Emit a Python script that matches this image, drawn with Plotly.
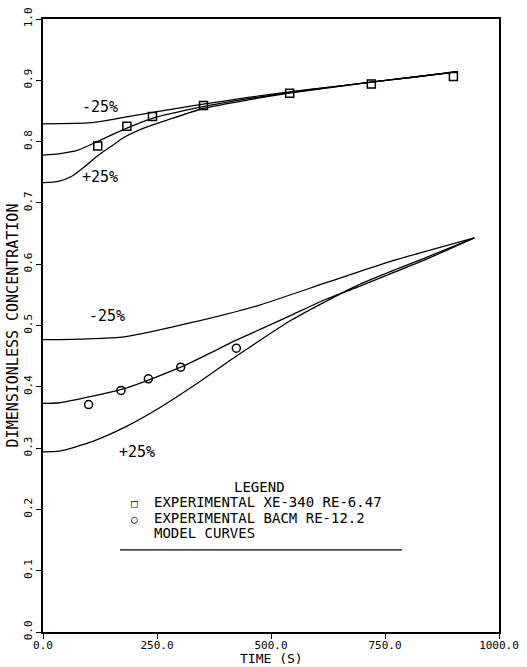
import plotly.graph_objects as go

# ---------------- data ----------------
# Experimental points
sq_time = [120, 184, 240, 352, 541, 720, 900]
sq_conc = [0.793, 0.825, 0.841, 0.859, 0.879, 0.894, 0.906]

ci_time = [100, 171, 231, 302, 424]
ci_conc = [0.371, 0.394, 0.413, 0.432, 0.463]

# Model curves, upper family (XE-340)
um_time = [0, 106, 180, 250, 351, 450, 540, 630, 720, 810, 910]
um_conc = [0.829, 0.831, 0.840, 0.849, 0.861, 0.872, 0.881, 0.889, 0.897, 0.905, 0.914]

u0_time = [0, 34, 77, 119, 184, 240, 351, 450, 540, 630, 720, 810, 910]
u0_conc = [0.778, 0.780, 0.786, 0.800, 0.822, 0.838, 0.857, 0.870, 0.880, 0.889, 0.897, 0.905, 0.914]

up_time = [0, 34, 62, 91, 120, 149, 178, 221, 272, 351, 450, 540, 630, 720, 810, 910]
up_conc = [0.733, 0.735, 0.743, 0.759, 0.777, 0.792, 0.807, 0.822, 0.835, 0.854, 0.868, 0.879, 0.888, 0.897, 0.905, 0.914]

# Model curves, lower family (BACM)
lm_time = [0, 36, 182, 327, 473, 618, 764, 946]
lm_conc = [0.477, 0.477, 0.482, 0.505, 0.533, 0.569, 0.605, 0.643]

l0_time = [0, 36, 182, 302, 424, 545, 618, 691, 764, 837, 946]
l0_conc = [0.373, 0.374, 0.398, 0.432, 0.476, 0.517, 0.542, 0.563, 0.585, 0.607, 0.643]

lp_time = [0, 36, 109, 182, 254, 327, 422, 545, 691, 837, 946]
lp_conc = [0.294, 0.295, 0.311, 0.335, 0.365, 0.400, 0.449, 0.509, 0.566, 0.610, 0.643]

x_ticks = [0, 250, 500, 750, 1000]
y_ticks = [0.0, 0.1, 0.2, 0.3, 0.4, 0.5, 0.6, 0.7, 0.8, 0.9, 1.0]

curve_labels = ["-25%", "+25%", "-25%", "+25%"]
label_time = [124, 124, 141, 207]
label_conc = [0.856, 0.743, 0.515, 0.294]

x_title = "TIME (S)"
y_title = "DIMENSIONLESS CONCENTRATION"

legend_title = "LEGEND"
legend_rows = ["EXPERIMENTAL XE-340 RE-6.47", "EXPERIMENTAL BACM RE-12.2", "MODEL CURVES"]
legend_syms = ["\u25a1", "\u25cb", ""]

# ---------------- figure ----------------
FONT = "DejaVu Sans Mono"
fig = go.Figure()

line_style = dict(color="black", width=1.3, shape="spline", smoothing=0.6)
for t, c in [(um_time, um_conc), (u0_time, u0_conc), (up_time, up_conc),
             (lm_time, lm_conc), (l0_time, l0_conc), (lp_time, lp_conc)]:
    fig.add_trace(go.Scatter(x=t, y=c, mode="lines", line=line_style,
                             showlegend=False, hoverinfo="skip"))

fig.add_trace(go.Scatter(x=sq_time, y=sq_conc, mode="markers", showlegend=False,
                         marker=dict(symbol="square-open", size=8, color="black",
                                     line=dict(width=1.5))))
fig.add_trace(go.Scatter(x=ci_time, y=ci_conc, mode="markers", showlegend=False,
                         marker=dict(symbol="circle-open", size=8, color="black",
                                     line=dict(width=1.5))))

for txt, t, c in zip(curve_labels, label_time, label_conc):
    fig.add_annotation(x=t, y=c, text=txt, showarrow=False,
                       font=dict(family=FONT, size=15, color="black"))

# manual legend (paper coordinates of the plot area)
fig.add_annotation(xref="paper", yref="paper", x=0.475, y=0.222, text=legend_title,
                   showarrow=False, borderpad=0,
                   font=dict(family=FONT, size=14, color="black"))
row_y = [0.197, 0.172, 0.147]
for txt, sym, yy in zip(legend_rows, legend_syms, row_y):
    fig.add_annotation(xref="paper", yref="paper", x=0.241, y=yy, text=txt,
                       xanchor="left", showarrow=False, borderpad=0,
                       font=dict(family=FONT, size=14, color="black"))
    if sym:
        fig.add_annotation(xref="paper", yref="paper", x=0.191, y=yy, text=sym,
                           showarrow=False, borderpad=0,
                           font=dict(family=FONT, size=11, color="black"))
fig.add_shape(type="line", xref="paper", yref="paper", x0=0.169, x1=0.787,
              y0=0.134, y1=0.134, line=dict(color="black", width=1.3))

# x-axis title as annotation below the tick labels
fig.add_annotation(xref="paper", yref="paper", x=0.5, y=0, yanchor="middle",
                   yshift=-26, text=x_title, showarrow=False, borderpad=0,
                   font=dict(family=FONT, size=13, color="black"))

fig.update_xaxes(range=[0, 1000], tickvals=x_ticks, tickformat=".1f", automargin=False,
                 showline=True, mirror=True, linecolor="black", linewidth=1.5,
                 ticks="outside", ticklen=5, tickcolor="black", showgrid=False,
                 ticklabelstandoff=-3,
                 zeroline=False, tickfont=dict(family=FONT, size=11, color="black"))
fig.update_yaxes(range=[0, 1.0], tickvals=y_ticks, tickformat=".1f", tickangle=-90,
                 automargin=False,
                 showline=True, mirror=True, linecolor="black", linewidth=1.5,
                 ticks="outside", ticklen=5, tickcolor="black", showgrid=False,
                 zeroline=False, tickfont=dict(family=FONT, size=11, color="black"),
                 title=dict(text=y_title, standoff=0,
                            font=dict(family=FONT, size=15, color="black")))

fig.update_layout(width=527, height=667, plot_bgcolor="white", paper_bgcolor="white",
                  margin=dict(l=43, r=28, t=19, b=35), showlegend=False)

# remove the browser's default 8px page margin so the figure sits at the window origin
fig.write_html("out.html", config={"displayModeBar": False},
               post_script="document.body.style.margin='0';")
